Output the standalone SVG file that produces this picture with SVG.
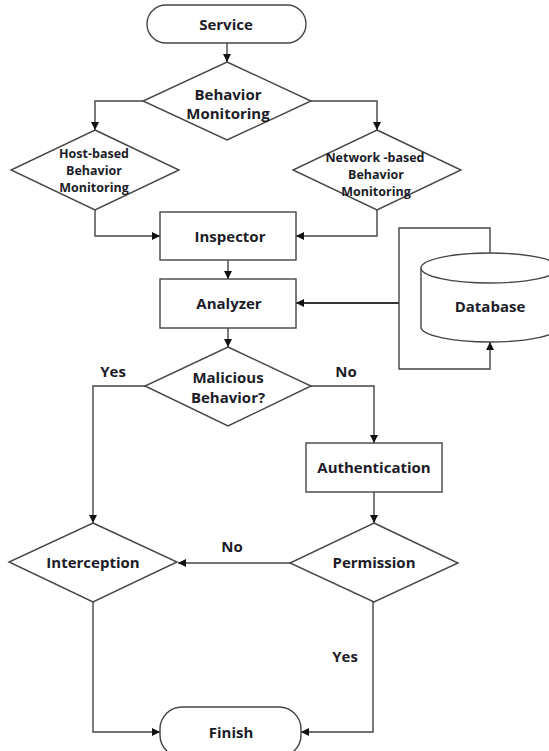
<svg xmlns="http://www.w3.org/2000/svg" width="549" height="751" viewBox="0 0 549 751">
<defs>
<marker id="ah" markerWidth="8" markerHeight="8" refX="8" refY="4" orient="auto" markerUnits="userSpaceOnUse">
<path d="M0,0 L8,4 L0,8 z" fill="#111"/>
</marker>
<style>
.shape{fill:#fff;stroke:#444;stroke-width:1.4}
.ln{fill:none;stroke:#444;stroke-width:1.4}
.thick{fill:none;stroke:#333;stroke-width:2}
text{font-family:"Open Sans","Noto Sans","Liberation Sans",sans-serif;font-weight:bold;fill:#1c1c28;text-anchor:middle;dominant-baseline:central}
.m{font-size:15px}
.s{font-size:12.5px}
</style>
</defs>
<rect width="549" height="751" fill="#fff"/>
<g id="connectors">
<path class="ln" d="M227,43 V62" marker-end="url(#ah)"/>
<path class="ln" d="M143,101 H95 V130" marker-end="url(#ah)"/>
<path class="ln" d="M311,101 H377 V130" marker-end="url(#ah)"/>
<path class="ln" d="M95,210 V236 H160" marker-end="url(#ah)"/>
<path class="ln" d="M377,210 V236 H296" marker-end="url(#ah)"/>
<path class="ln" d="M228,260 V279" marker-end="url(#ah)"/>
<path class="ln" d="M228,328 V347" marker-end="url(#ah)"/>
<path class="thick" d="M399,303 H296" marker-end="url(#ah)"/>
<path class="ln" d="M490,253 V228 H399 V369 H490 V342" marker-end="url(#ah)"/>
<path class="ln" d="M145,386 H93 V523" marker-end="url(#ah)"/>
<path class="ln" d="M311,386 H374 V443" marker-end="url(#ah)"/>
<path class="ln" d="M374,492 V523" marker-end="url(#ah)"/>
<path class="ln" d="M290,563 H178" marker-end="url(#ah)"/>
<path class="ln" d="M93,602 V732 H160" marker-end="url(#ah)"/>
<path class="ln" d="M373,602 V732 H301" marker-end="url(#ah)"/>
<text class="m" x="113" y="371">Yes</text>
<text class="m" x="346" y="371">No</text>
<text class="m" x="232" y="546">No</text>
<text class="m" x="345" y="656">Yes</text>
</g>
<g id="service">
<rect class="shape" x="147" y="5" width="159" height="38" rx="19"/>
<text class="m" x="226" y="24">Service</text>
</g>
<g id="behavior-monitoring">
<polygon class="shape" points="227,62 311,101 227,140 143,101"/>
<text class="m" x="228" y="94">Behavior</text>
<text class="m" x="228" y="113">Monitoring</text>
</g>
<g id="host-based">
<polygon class="shape" points="95,130 179,170 95,210 11,170"/>
<text class="s" x="94" y="153">Host-based</text>
<text class="s" x="94" y="170">Behavior</text>
<text class="s" x="94" y="187">Monitoring</text>
</g>
<g id="network-based">
<polygon class="shape" points="377,130 461,170 377,210 293,170"/>
<text class="s" x="375" y="157">Network -based</text>
<text class="s" x="376" y="174">Behavior</text>
<text class="s" x="376" y="191">Monitoring</text>
</g>
<g id="inspector">
<rect class="shape" x="160" y="212" width="136" height="48"/>
<text class="m" x="230" y="236">Inspector</text>
</g>
<g id="analyzer">
<rect class="shape" x="160" y="279" width="136" height="49"/>
<text class="m" x="229" y="303">Analyzer</text>
</g>
<g id="database">
<path class="shape" d="M421,268 V327 A69,15 0 0 0 559,327 V268"/>
<ellipse class="shape" cx="490" cy="268" rx="69" ry="15"/>
<text class="m" x="490" y="306">Database</text>
</g>
<g id="malicious">
<polygon class="shape" points="228,347 311,386 228,426 145,386"/>
<text class="m" x="228" y="377">Malicious</text>
<text class="m" x="228" y="397">Behavior?</text>
</g>
<g id="authentication">
<rect class="shape" x="306" y="443" width="136" height="49"/>
<text class="m" x="374" y="467">Authentication</text>
</g>
<g id="permission">
<polygon class="shape" points="374,523 458,563 374,602 290,563"/>
<text class="m" x="374" y="562">Permission</text>
</g>
<g id="interception">
<polygon class="shape" points="93,523 177,562 93,602 9,562"/>
<text class="m" x="93" y="562">Interception</text>
</g>
<g id="finish">
<rect class="shape" x="160" y="707" width="141" height="50" rx="22"/>
<text class="m" x="231" y="732">Finish</text>
</g>
</svg>
